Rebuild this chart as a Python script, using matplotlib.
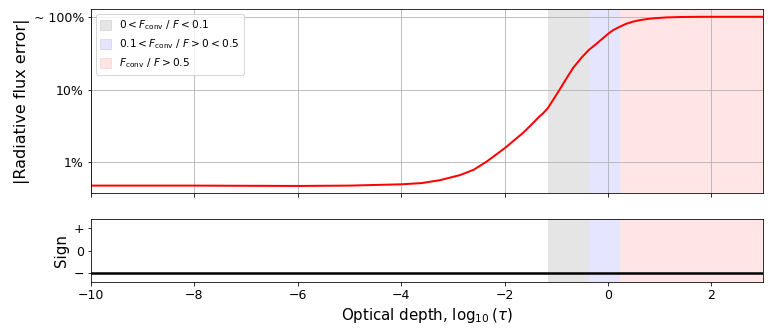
import numpy as np
import matplotlib.pyplot as plt
from matplotlib.patches import Patch
from matplotlib.ticker import NullLocator

# values
log_tau = [-10, -8, -6, -5, -4.5, -4, -3.6, -3.25, -2.86, -2.6, -2.35, -2.15,
           -1.98, -1.8, -1.64, -1.48, -1.32, -1.25, -1.16, -1.05, -0.93, -0.8,
           -0.67, -0.5, -0.37, -0.25, -0.15, 0.0, 0.1, 0.23, 0.35, 0.49, 0.62,
           0.75, 0.9, 1.13, 1.4, 1.8, 2.3, 3]
flux_err = [0.48, 0.48, 0.475, 0.48, 0.49, 0.50, 0.52, 0.57, 0.67, 0.79, 1.02,
            1.3, 1.6, 2.05, 2.55, 3.3, 4.3, 4.75, 5.6, 7.4, 10.1, 14.3,
            20, 28, 35, 41, 47, 58, 65.5, 73, 80, 86, 90,
            93, 95.5, 98, 99.3, 100, 100, 100]
sign_x = [-10, 3]
sign_y = [-1, -1]

# convective regions
conv_edges = [-1.16, -0.37, 0.23, 3]
conv_colors = ['gray', 'blue', 'red']
conv_alpha = [0.2, 0.1, 0.1]
conv_labels = [r'$0 < F_{\rm conv}\ /\ F < 0.1$',
               r'$0.1 < F_{\rm conv}\ /\ F > 0 < 0.5$',
               r'$F_{\rm conv}\ /\ F > 0.5$']

fig = plt.figure(figsize=(771/72, 328/72), dpi=72)
ax1 = fig.add_axes([0.118, 0.4116, 0.8716, 0.561])
ax2 = fig.add_axes([0.118, 0.140, 0.8716, 0.192], sharex=ax1)

for ax in (ax1, ax2):
    for i in range(3):
        ax.axvspan(conv_edges[i], conv_edges[i+1], color=conv_colors[i],
                   alpha=conv_alpha[i], lw=0)

ax1.plot(log_tau, flux_err, color='red', lw=2, solid_joinstyle='round')
ax1.set_yscale('log')
ax1.set_ylim(0.38, 128)
ax1.set_yticks([1, 10, 100])
ax1.set_yticklabels(['1%', '10%', '~ 100%'])
ax1.yaxis.set_minor_locator(NullLocator())
ax1.grid(True, color='#b0b0b0')
ax1.tick_params(labelbottom=False, labelsize=12.5)
ax1.set_ylabel('|Radiative flux error|', fontsize=16)

handles = [Patch(color=conv_colors[i], alpha=conv_alpha[i], label=conv_labels[i])
           for i in range(3)]
ax1.legend(handles=handles, loc='upper left', fontsize=10.5,
           handlelength=1.0, handleheight=1.0)

ax2.plot(sign_x, sign_y, color='black', lw=2.5)
ax2.set_ylim(-1.4, 1.4)
ax2.set_yticks([1, 0, -1])
ax2.set_yticklabels(['+', '0', '\u2212'])
ax2.set_xlim(-10, 3)
ax2.set_xticks(np.arange(-10, 3, 2))
ax2.tick_params(labelsize=12.5)
ax2.set_ylabel('Sign', fontsize=15)
ax2.set_xlabel(r'Optical depth, $\log_{10}(\tau)$', fontsize=15)

fig.savefig('out.png', dpi=72)
